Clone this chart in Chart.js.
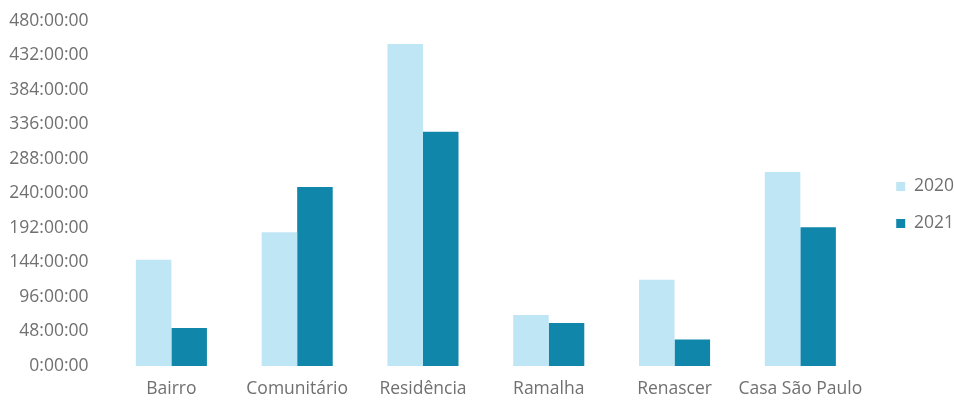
<!DOCTYPE html>
<html>
<head>
<meta charset="utf-8">
<script src="https://cdn.jsdelivr.net/npm/chart.js@4/dist/chart.umd.min.js"></script>
<style>
  html, body { margin: 0; padding: 0; background: #ffffff; }
  #wrap { width: 954px; height: 401px; }
</style>
</head>
<body>
<div id="wrap"><canvas id="chart" width="954" height="401"></canvas></div>
<script>
// Hours per unit, by year
const categories = ['Bairro', 'Comunitário', 'Residência', 'Ramalha', 'Renascer', 'Casa São Paulo'];
const hours2020 = [148, 186, 448, 71, 120, 270];
const hours2021 = [53, 249, 326, 60, 37, 193];
const seriesLabels = ['2020', '2021'];
const tickStepHours = 48;
const tickMaxHours = 480;

const fontFamily = '"Open Sans", Lato, sans-serif';
const fontSize = 17.5;
const textColor = '#707070';

function formatHours(h) {
  return h + ':00:00';
}

function draw() {
  new Chart(document.getElementById('chart'), {
    type: 'bar',
    data: {
      labels: categories,
      datasets: [
        { label: seriesLabels[0], data: hours2020, backgroundColor: '#bfe6f5' },
        { label: seriesLabels[1], data: hours2021, backgroundColor: '#0f86aa' }
      ]
    },
    options: {
      responsive: false,
      animation: false,
      layout: { padding: { top: 11, left: 8, right: -10, bottom: 2 } },
      datasets: { bar: { barPercentage: 1, categoryPercentage: 0.565 } },
      plugins: {
        tooltip: { enabled: false },
        legend: {
          position: 'right',
          labels: {
            boxWidth: 9,
            boxHeight: 9,
            padding: 19.5,
            color: textColor,
            font: { family: fontFamily, size: fontSize }
          }
        }
      },
      scales: {
        x: {
          grid: { display: false, drawTicks: false },
          border: { display: false },
          ticks: {
            color: textColor,
            font: { family: fontFamily, size: fontSize },
            padding: 12.5,
            maxRotation: 0,
            autoSkip: false
          },
          afterFit: s => { s.height = 33; s.paddingLeft = 0; s.paddingRight = 0; }
        },
        y: {
          min: 0,
          max: tickMaxHours,
          grid: { display: false, drawTicks: false },
          border: { display: false },
          ticks: {
            stepSize: tickStepHours,
            color: textColor,
            padding: 20,
            font: { family: fontFamily, size: fontSize },
            callback: v => formatHours(v)
          },
          afterFit: s => { s.width = 100.5; s.paddingTop = 21; s.paddingBottom = 0; }
        },
        // empty gutter between the plot and the legend
        gutter: {
          type: 'linear',
          position: 'right',
          grid: { display: false, drawTicks: false },
          border: { display: false },
          ticks: { display: false },
          afterFit: s => { s.width = 13.5; s.paddingTop = 0; s.paddingBottom = 0; }
        }
      }
    }
  });
}

// make sure the face is ready before Chart.js measures any text
document.fonts.load(fontSize + 'px "Open Sans"').then(draw, draw);
</script>
</body>
</html>
